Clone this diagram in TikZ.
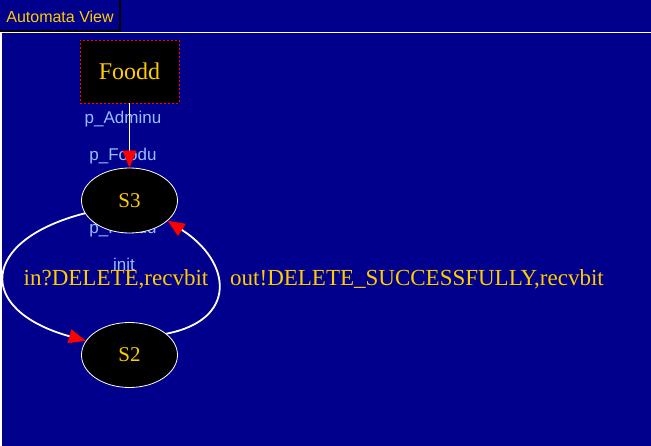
\documentclass[tikz,border=0pt]{standalone}
\usepackage{fontspec}
\setmainfont{Liberation Serif}
\newfontfamily\arialf{Liberation Sans}
\usetikzlibrary{arrows.meta,shapes.geometric}
\definecolor{bg}{RGB}{0,0,140}
\definecolor{ytext}{RGB}{255,204,0}
\definecolor{ltblue}{RGB}{150,190,255}
\tikzset{
  statenode/.style={ellipse, draw=white, fill=black, line width=0.8pt, text=ytext,
    minimum width=96pt, minimum height=65pt, inner sep=0pt, font=\fontsize{21}{21}\selectfont},
  procbox/.style={rectangle, draw=red, dash pattern=on 2pt off 2pt, fill=black, text=ytext,
    minimum width=99pt, minimum height=63pt, inner sep=0pt, font=\fontsize{24}{24}\selectfont},
  chanlabel/.style={text=ltblue, inner sep=0pt, font=\arialf\fontsize{17}{17}\selectfont},
  translabel/.style={text=ytext, inner sep=0pt, font=\fontsize{23}{23}\selectfont},
  edge/.style={draw=white, line width=1.8pt, -{Triangle[length=17pt,width=14pt,fill=red,color=red]}},
  thinedge/.style={draw=white, line width=0.8pt, -{Triangle[length=17pt,width=14pt,fill=red,color=red]}},
}
\begin{document}
\begin{tikzpicture}[x=1pt,y=-1pt]
\fill[bg] (0,0) rectangle (651,446);
\useasboundingbox (0,0) rectangle (651,446);
% tab
\draw[black, line width=1.5pt] (0,31) -- (120,31) -- (120,0);
\node[text=ytext, inner sep=0pt, font=\arialf\fontsize{16}{16}\selectfont] (tab) at (60,16.5) {Automata View};
% frame
\draw[white, line width=1.5pt] (0,32.5) -- (651,32.5);
\draw[white, line width=1.5pt] (1.2,32.5) -- (1.2,446);
% channel labels (drawn below states)
\node[chanlabel] (la) at (123,119) {p\_Adminu};
\node[chanlabel] (lf) at (123,156) {p\_Foodu};
\node[chanlabel] (lf2) at (123,229) {p\_Foodu};
\node[chanlabel] (linit) at (124,264) {init};
% transition labels
\node[translabel] (tin) at (116,279) {in?DELETE,recvbit};
\node[translabel] (tout) at (417,279) {out!DELETE\_SUCCESSFULLY,recvbit};
% process box and states
\node[procbox] (foodd) at (129.5,71.5) {Foodd};
\node[statenode] (s3) at (129.5,200.5) {S3};
\node[statenode] (s2) at (129.5,355) {S2};
% connectors
\draw[thinedge] (foodd.south) -- (s3.north);
\draw[edge] (s3.196) .. controls (-20,240) and (-25,310) .. (s2.162);
\draw[edge] (s2.30) .. controls (238,320) and (232,262) .. (s3.-28);
\end{tikzpicture}
\end{document}
